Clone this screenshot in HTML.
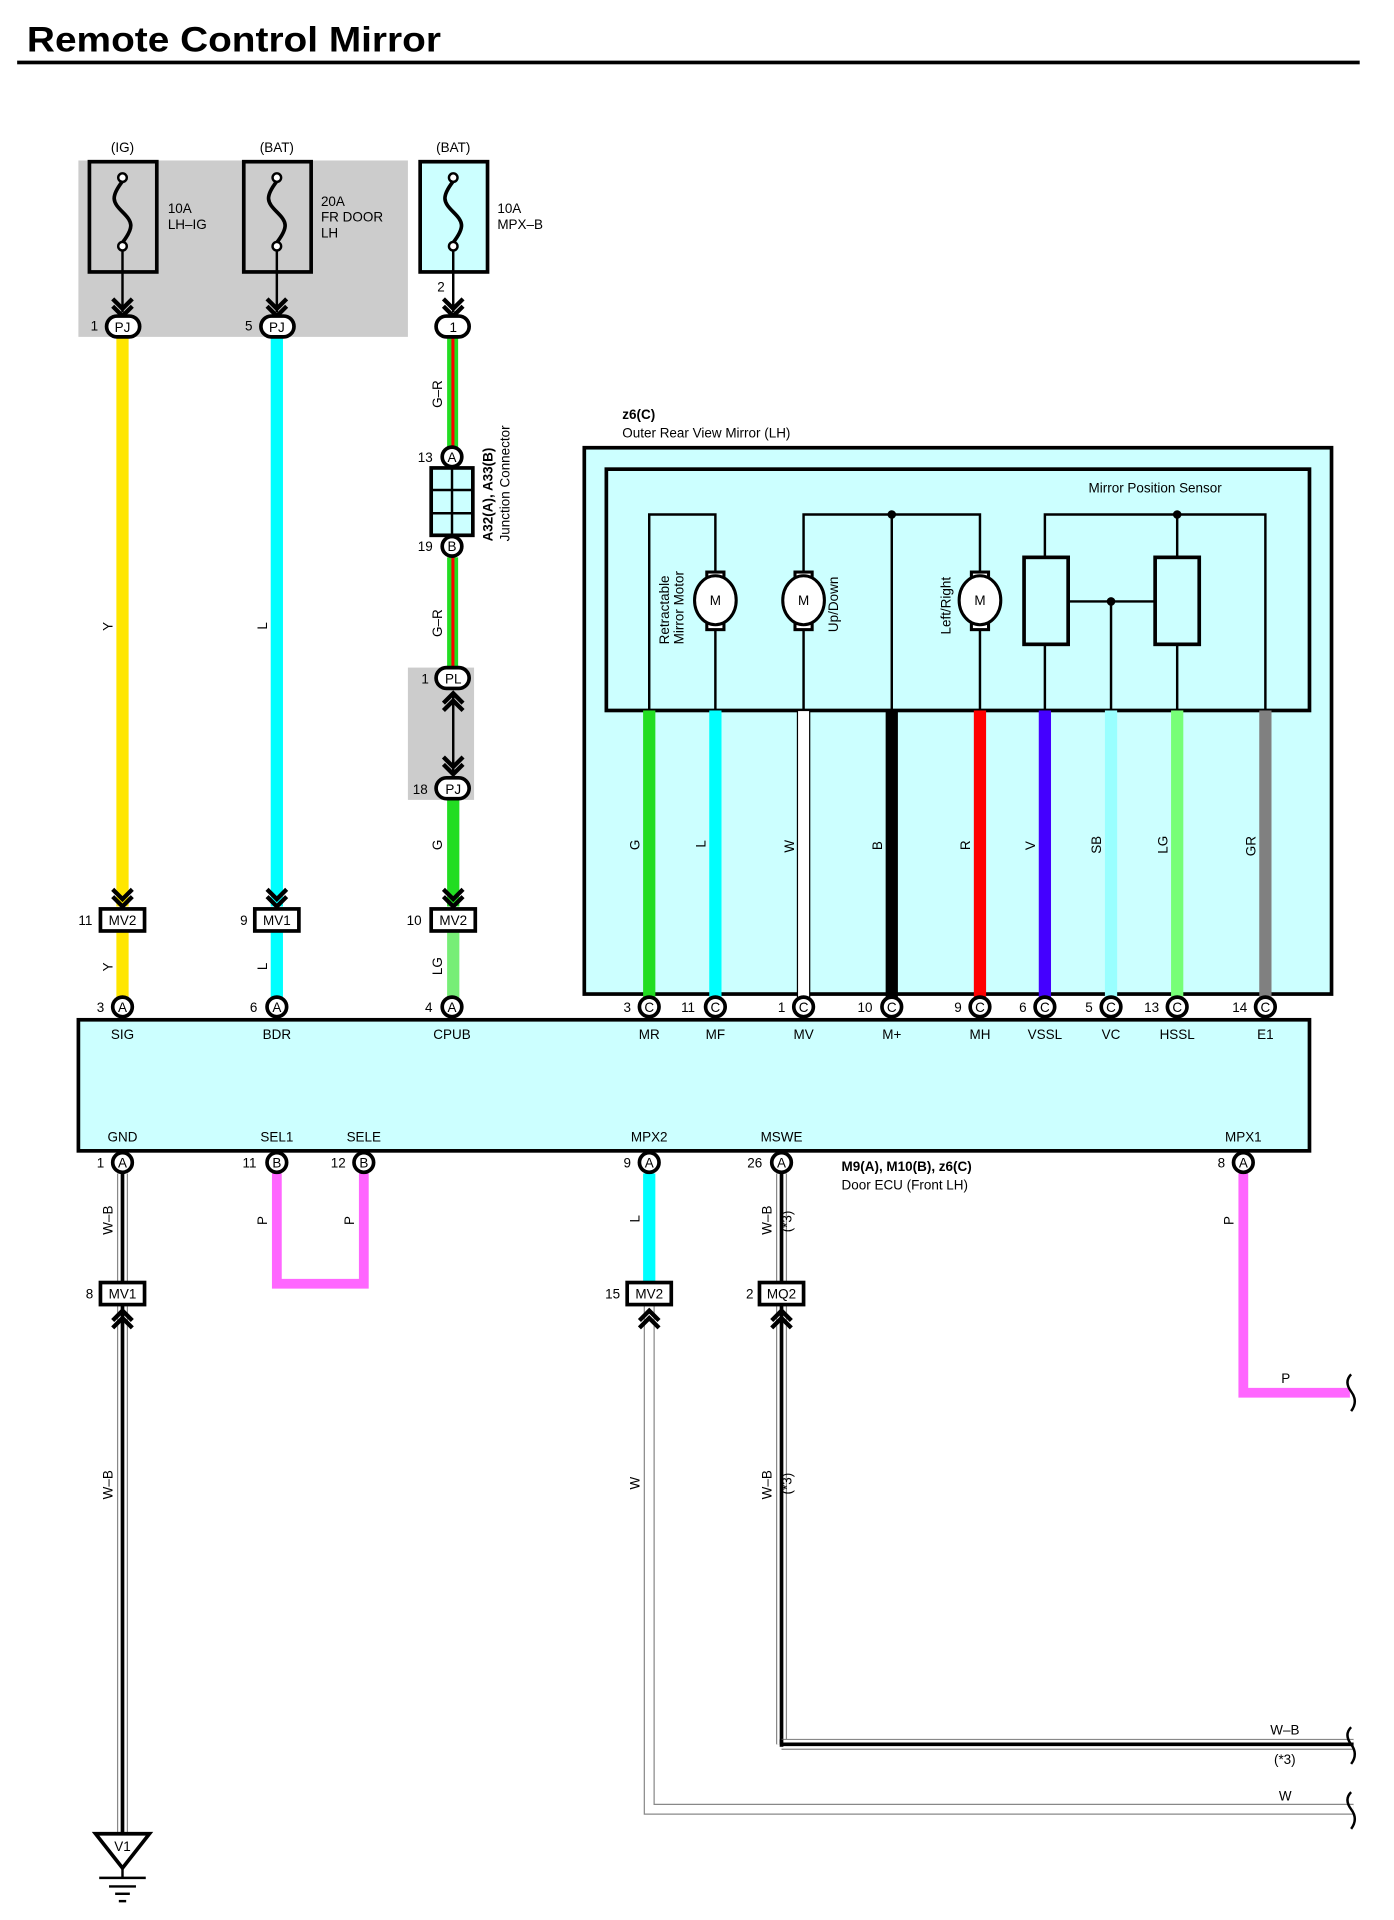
<!DOCTYPE html>
<html><head><meta charset="utf-8"><style>
html,body{margin:0;padding:0;background:#fff;}
svg{display:block;}
text{font-family:"Liberation Sans",sans-serif;fill:#000;}
.s{font-size:11px;}
.c{text-anchor:middle;}
</style></head><body>
<svg width="1394" height="1920" viewBox="0 0 1138 1567.4" xmlns="http://www.w3.org/2000/svg">
<defs>
<g id="fuse"><circle cx="0" cy="-28" r="3.5" fill="#fff" stroke="#000" stroke-width="2"/><circle cx="0" cy="28" r="3.5" fill="#fff" stroke="#000" stroke-width="2"/><path d="M0,-25 C-10,-12 -8,-8 0,0 C8,8 10,12 0,25" fill="none" stroke="#000" stroke-width="3"/></g>
<path id="chevD" d="M-8,-10 L0,-2 L8,-10 M-8,-4 L0,4 L8,-4" fill="none" stroke="#000" stroke-width="3.5"/>
<path id="chevU" d="M-8,10 L0,2 L8,10 M-8,4 L0,-4 L8,4" fill="none" stroke="#000" stroke-width="3.5"/>
</defs>
<text x="22" y="42" textLength="338" lengthAdjust="spacingAndGlyphs" style="font-size:29px;font-weight:bold">Remote Control Mirror</text>
<rect x="14" y="49.5" width="1096" height="3" fill="#000"/>

<!-- gray fuse area -->
<rect x="64" y="131" width="269" height="144" fill="#cccccc"/>
<rect x="73" y="132" width="55" height="90" fill="none" stroke="#000" stroke-width="3"/>
<rect x="199" y="132" width="55" height="90" fill="none" stroke="#000" stroke-width="3"/>
<rect x="343" y="132" width="55" height="90" fill="#ccffff" stroke="#000" stroke-width="3"/>
<use href="#fuse" x="100" y="173"/><use href="#fuse" x="226" y="173"/><use href="#fuse" x="370" y="173"/>
<text class="s c" x="100" y="124">(IG)</text><text class="s c" x="226" y="124">(BAT)</text><text class="s c" x="370" y="124">(BAT)</text>
<text class="s" x="137" y="174">10A</text><text class="s" x="137" y="187">LH–IG</text>
<text class="s" x="262" y="168">20A</text><text class="s" x="262" y="181">FR DOOR</text><text class="s" x="262" y="194">LH</text>
<text class="s" x="406" y="174">10A</text><text class="s" x="406" y="187">MPX–B</text>
<g stroke="#000" stroke-width="2"><line x1="100" y1="204" x2="100" y2="255"/><line x1="226" y1="204" x2="226" y2="255"/><line x1="370" y1="204" x2="370" y2="255"/></g>
<use href="#chevD" x="100" y="254"/><use href="#chevD" x="226" y="254"/><use href="#chevD" x="370" y="254"/>
<text class="s" x="357" y="238">2</text>

<!-- wires top -->
<rect x="95" y="275" width="10" height="465" fill="#ffe600"/>
<rect x="221" y="275" width="10" height="465" fill="#00ffff"/>
<rect x="95" y="760" width="10" height="56" fill="#ffe600"/>
<rect x="221" y="760" width="10" height="56" fill="#00ffff"/>
<rect x="365" y="275" width="9" height="90" fill="#22dd22"/><rect x="368.5" y="275" width="2.5" height="90" fill="#ff0000"/>
<rect x="365" y="455" width="9" height="90" fill="#22dd22"/><rect x="368.5" y="455" width="2.5" height="90" fill="#ff0000"/>
<rect x="333" y="545" width="54" height="108" fill="#cccccc"/>
<line x1="370" y1="568" x2="370" y2="630" stroke="#000" stroke-width="2"/>
<use href="#chevU" x="370" y="570"/><use href="#chevD" x="370" y="628"/>
<rect x="365" y="653" width="10" height="87" fill="#22dd22"/>
<rect x="365" y="760" width="10" height="56" fill="#77ee77"/>

<!-- PJ connectors -->
<g stroke="#000" stroke-width="3" fill="#fff">
<rect x="87" y="258" width="27" height="17" rx="8.5"/><rect x="213" y="258" width="27" height="17" rx="8.5"/><rect x="356" y="258" width="27" height="17" rx="8.5"/>
<rect x="356" y="545" width="27" height="17" rx="8.5"/><rect x="356" y="635" width="27" height="17" rx="8.5"/>
</g>
<text class="s c" x="100" y="271">PJ</text><text class="s c" x="226" y="271">PJ</text><text class="s c" x="370" y="271">1</text>
<text class="s c" x="370" y="558">PL</text><text class="s c" x="370" y="648">PJ</text>
<text class="s" x="74" y="270">1</text><text class="s" x="200" y="270">5</text>
<text class="s" x="344" y="558">1</text><text class="s" x="337" y="648">18</text>

<!-- junction connector -->
<rect x="352" y="382" width="34" height="55" fill="#ccffff" stroke="#000" stroke-width="3"/>
<line x1="369" y1="382" x2="369" y2="437" stroke="#000" stroke-width="2"/>
<line x1="352" y1="400" x2="386" y2="400" stroke="#000" stroke-width="2"/><line x1="352" y1="419" x2="386" y2="419" stroke="#000" stroke-width="2"/>
<circle cx="369" cy="373" r="8" fill="#fff" stroke="#000" stroke-width="3"/><text class="s c" x="369" y="377">A</text>
<circle cx="369" cy="446" r="8" fill="#fff" stroke="#000" stroke-width="3"/><text class="s c" x="369" y="450">B</text>
<text class="s" x="341" y="377">13</text><text class="s" x="341" y="450">19</text>
<text class="s" transform="translate(402,442) rotate(-90)" style="font-weight:bold">A32(A), A33(B)</text>
<text class="s" transform="translate(416,442) rotate(-90)">Junction Connector</text>

<!-- MV connectors -->
<g stroke="#000" stroke-width="3" fill="#fff">
<rect x="82" y="742" width="36" height="18"/><rect x="208" y="742" width="36" height="18"/><rect x="352" y="742" width="36" height="18"/>
</g>
<use href="#chevD" x="100" y="736"/><use href="#chevD" x="226" y="736"/><use href="#chevD" x="370" y="736"/>
<text class="s c" x="100" y="755">MV2</text><text class="s c" x="226" y="755">MV1</text><text class="s c" x="370" y="755">MV2</text>
<text class="s" x="64" y="755">11</text><text class="s" x="196" y="755">9</text><text class="s" x="332" y="755">10</text>

<!-- wire labels -->
<g class="s">
<text transform="translate(92,515) rotate(-90)">Y</text>
<text transform="translate(218,514) rotate(-90)">L</text>
<text transform="translate(361,333) rotate(-90)">G–R</text>
<text transform="translate(361,520) rotate(-90)">G–R</text>
<text transform="translate(361,694) rotate(-90)">G</text>
<text transform="translate(92,793) rotate(-90)">Y</text>
<text transform="translate(218,792) rotate(-90)">L</text>
<text transform="translate(361,796) rotate(-90)">LG</text>
</g>

<!-- mirror box -->
<text class="s" x="508" y="342" style="font-weight:bold">z6(C)</text>
<text class="s" x="508" y="357">Outer Rear View Mirror (LH)</text>
<rect x="477" y="365.5" width="610" height="446" fill="#ccffff" stroke="#000" stroke-width="3"/>
<rect x="495" y="383" width="574" height="197" fill="none" stroke="#000" stroke-width="3"/>
<text class="s c" x="943" y="402">Mirror Position Sensor</text>
<g stroke="#000" stroke-width="2" fill="none">
<polyline points="530,580 530,420 584,420 584,580"/>
<polyline points="656,580 656,420 800,420 800,580"/>
<line x1="728" y1="420" x2="728" y2="580"/>
<polyline points="853,580 853,420 1033,420 1033,580"/>
<line x1="961" y1="420" x2="961" y2="580"/>
<line x1="872" y1="491" x2="943" y2="491"/>
<line x1="907" y1="491" x2="907" y2="580"/>
</g>
<circle cx="728" cy="420" r="3.5"/><circle cx="961" cy="420" r="3.5"/><circle cx="907" cy="491" r="3.5"/>
<g stroke="#000" stroke-width="3" fill="#ccffff">
<rect x="836" y="455" width="36" height="71"/><rect x="943" y="455" width="36" height="71"/>
</g>
<g stroke="#000" stroke-width="2.5" fill="#fff">
<rect x="577" y="467" width="14" height="8"/><rect x="577" y="506" width="14" height="8"/><ellipse cx="584" cy="490" rx="17" ry="20"/>
<rect x="649" y="467" width="14" height="8"/><rect x="649" y="506" width="14" height="8"/><ellipse cx="656" cy="490" rx="17" ry="20"/>
<rect x="793" y="467" width="14" height="8"/><rect x="793" y="506" width="14" height="8"/><ellipse cx="800" cy="490" rx="17" ry="20"/>
</g>
<text class="s c" x="584" y="494">M</text><text class="s c" x="656" y="494">M</text><text class="s c" x="800" y="494">M</text>
<text class="s" transform="translate(546,526) rotate(-90)">Retractable</text>
<text class="s" transform="translate(558,526) rotate(-90)">Mirror Motor</text>
<text class="s" transform="translate(684,516) rotate(-90)">Up/Down</text>
<text class="s" transform="translate(776,518) rotate(-90)">Left/Right</text>

<!-- mirror wires -->
<rect x="525" y="580" width="10" height="236" fill="#22dd22"/>
<rect x="579" y="580" width="10" height="236" fill="#00ffff"/>
<rect x="651" y="580" width="10" height="236" fill="#fff" stroke="#000" stroke-width="1"/>
<rect x="723" y="580" width="10" height="236" fill="#000"/>
<rect x="795" y="580" width="10" height="236" fill="#ff0000"/>
<rect x="848" y="580" width="10" height="236" fill="#4400ff"/>
<rect x="902" y="580" width="10" height="236" fill="#99ffff"/>
<rect x="956" y="580" width="10" height="236" fill="#77ff77"/>
<rect x="1028" y="580" width="10" height="236" fill="#808080"/>
<g class="s">
<text transform="translate(522,694) rotate(-90)">G</text>
<text transform="translate(576,692) rotate(-90)">L</text>
<text transform="translate(648,696) rotate(-90)">W</text>
<text transform="translate(720,694) rotate(-90)">B</text>
<text transform="translate(792,694) rotate(-90)">R</text>
<text transform="translate(845,694) rotate(-90)">V</text>
<text transform="translate(899,697) rotate(-90)">SB</text>
<text transform="translate(953,697) rotate(-90)">LG</text>
<text transform="translate(1025,699) rotate(-90)">GR</text>
</g>

<!-- bottom wires -->
<g>
<rect x="95.5" y="958" width="9" height="538" fill="#888"/><rect x="96.5" y="958" width="7" height="538" fill="#fff"/><rect x="98.5" y="958" width="3" height="538" fill="#000"/>
<rect x="633.5" y="958" width="9" height="466" fill="#888"/><rect x="634.5" y="958" width="7" height="466" fill="#fff"/><rect x="636.5" y="958" width="3" height="466" fill="#000"/>
<path d="M638,1424 L1105,1424" stroke="#888" stroke-width="9" fill="none"/>
<path d="M638,1424 L1105,1424" stroke="#fff" stroke-width="7" fill="none"/>
<path d="M638,1424 L1105,1424" stroke="#000" stroke-width="3" fill="none"/>
<rect x="636.5" y="1420" width="3" height="6" fill="#000"/>
<path d="M530,1065 L530,1477 L1105,1477" stroke="#888" stroke-width="9" fill="none"/>
<path d="M530,1065 L530,1477 L1105,1477" stroke="#fff" stroke-width="7" fill="none"/>
<rect x="525" y="958" width="10" height="90" fill="#00ffff"/>
<path d="M226,958 L226,1048 L297,1048 L297,958" stroke="#ff66ff" stroke-width="8" fill="none"/>
<path d="M1015,958 L1015,1137 L1102,1137" stroke="#ff66ff" stroke-width="8" fill="none"/>
</g>
<use href="#chevU" x="100" y="1074"/><use href="#chevU" x="530" y="1074"/><use href="#chevU" x="638" y="1074"/>
<rect x="82" y="1047" width="36" height="18" fill="#fff" stroke="#000" stroke-width="3"/><rect x="512" y="1047" width="36" height="18" fill="#fff" stroke="#000" stroke-width="3"/><rect x="620" y="1047" width="36" height="18" fill="#fff" stroke="#000" stroke-width="3"/>
<text class="s c" x="100" y="1060">MV1</text><text class="s c" x="530" y="1060">MV2</text><text class="s c" x="638" y="1060">MQ2</text>
<text class="s" x="70" y="1060">8</text><text class="s" x="494" y="1060">15</text><text class="s" x="609" y="1060">2</text>
<g fill="none" stroke="#000" stroke-width="2">
<path d="M1103,1122 q-6,6 0,14 q6,8 0,16"/><path d="M1103,1410 q-6,6 0,14 q6,8 0,16"/><path d="M1103,1463 q-6,6 0,14 q6,8 0,16"/>
</g>
<g class="s">
<text transform="translate(92,1008) rotate(-90)">W–B</text>
<text transform="translate(218,1000) rotate(-90)">P</text>
<text transform="translate(289,1000) rotate(-90)">P</text>
<text transform="translate(522,998) rotate(-90)">L</text>
<text transform="translate(630,1008) rotate(-90)">W–B</text>
<text transform="translate(646,1006) rotate(-90)">(*3)</text>
<text transform="translate(1007,1000) rotate(-90)">P</text>
<text transform="translate(92,1224) rotate(-90)">W–B</text>
<text transform="translate(522,1216) rotate(-90)">W</text>
<text transform="translate(630,1224) rotate(-90)">W–B</text>
<text transform="translate(646,1220) rotate(-90)">(*3)</text>
<text x="1046" y="1129">P</text>
<text x="1037" y="1416">W–B</text>
<text x="1040" y="1440">(*3)</text>
<text x="1044" y="1470">W</text>
</g>

<!-- ground -->
<path d="M78,1497 L122,1497 L100,1525 Z" fill="#fff" stroke="#000" stroke-width="3" stroke-linejoin="miter"/>
<text class="s c" x="100" y="1511">V1</text>
<line x1="100" y1="1525" x2="100" y2="1533" stroke="#000" stroke-width="2"/>
<line x1="81" y1="1533" x2="119" y2="1533" stroke="#000" stroke-width="2"/>
<line x1="89" y1="1540" x2="111" y2="1540" stroke="#000" stroke-width="2"/>
<line x1="94" y1="1546" x2="106" y2="1546" stroke="#000" stroke-width="2"/>
<line x1="97" y1="1552" x2="103" y2="1552" stroke="#000" stroke-width="2"/>

<!-- ECU -->
<rect x="64" y="832.5" width="1005" height="107" fill="#ccffff" stroke="#000" stroke-width="3"/>
<g class="s c">
<text x="100" y="848">SIG</text><text x="226" y="848">BDR</text><text x="369" y="848">CPUB</text>
<text x="530" y="848">MR</text><text x="584" y="848">MF</text><text x="656" y="848">MV</text><text x="728" y="848">M+</text>
<text x="800" y="848">MH</text><text x="853" y="848">VSSL</text><text x="907" y="848">VC</text><text x="961" y="848">HSSL</text><text x="1033" y="848">E1</text>
<text x="100" y="932">GND</text><text x="226" y="932">SEL1</text><text x="297" y="932">SELE</text>
<text x="530" y="932">MPX2</text><text x="638" y="932">MSWE</text><text x="1015" y="932">MPX1</text>
</g>
<text class="s" x="687" y="956" style="font-weight:bold">M9(A), M10(B), z6(C)</text>
<text class="s" x="687" y="971">Door ECU (Front LH)</text>

<!-- connector circles -->
<g stroke="#000" stroke-width="3" fill="#fff">
<circle cx="100" cy="822" r="8"/><circle cx="226" cy="822" r="8"/><circle cx="369" cy="822" r="8"/>
<circle cx="530" cy="822" r="8"/><circle cx="584" cy="822" r="8"/><circle cx="656" cy="822" r="8"/><circle cx="728" cy="822" r="8"/>
<circle cx="800" cy="822" r="8"/><circle cx="853" cy="822" r="8"/><circle cx="907" cy="822" r="8"/><circle cx="961" cy="822" r="8"/><circle cx="1033" cy="822" r="8"/>
<circle cx="100" cy="949" r="8"/><circle cx="226" cy="949" r="8"/><circle cx="297" cy="949" r="8"/><circle cx="530" cy="949" r="8"/><circle cx="638" cy="949" r="8"/><circle cx="1015" cy="949" r="8"/>
</g>
<g class="s c">
<text x="100" y="826">A</text><text x="226" y="826">A</text><text x="369" y="826">A</text>
<text x="530" y="826">C</text><text x="584" y="826">C</text><text x="656" y="826">C</text><text x="728" y="826">C</text>
<text x="800" y="826">C</text><text x="853" y="826">C</text><text x="907" y="826">C</text><text x="961" y="826">C</text><text x="1033" y="826">C</text>
<text x="100" y="953">A</text><text x="226" y="953">B</text><text x="297" y="953">B</text><text x="530" y="953">A</text><text x="638" y="953">A</text><text x="1015" y="953">A</text>
</g>
<g class="s">
<text x="79" y="826">3</text><text x="204" y="826">6</text><text x="347" y="826">4</text>
<text x="509" y="826">3</text><text x="556" y="826">11</text><text x="635" y="826">1</text><text x="700" y="826">10</text>
<text x="779" y="826">9</text><text x="832" y="826">6</text><text x="886" y="826">5</text><text x="934" y="826">13</text><text x="1006" y="826">14</text>
<text x="79" y="953">1</text><text x="198" y="953">11</text><text x="270" y="953">12</text><text x="509" y="953">9</text><text x="610" y="953">26</text><text x="994" y="953">8</text>
</g>
</svg>
</body></html>
